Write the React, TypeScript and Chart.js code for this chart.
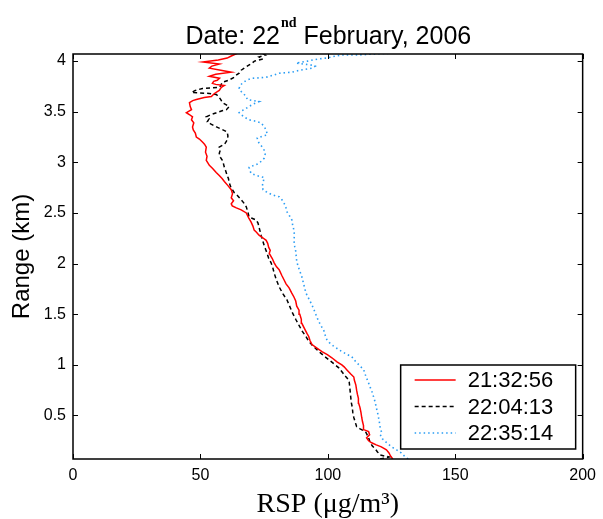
import React, { useEffect, useRef } from "react";
import { Chart, registerables } from "chart.js";

Chart.register(...registerables);

// ---- Data ----
const seriesLabels = ["21:32:56", "22:04:13", "22:35:14"];

// 21:32:56 (red, solid)
const redHeights = [
  0.07, 0.10, 0.13, 0.16, 0.19, 0.21, 0.23, 0.25, 0.28, 0.31, 0.34, 0.36, 0.40, 0.44, 0.48, 0.53,
  0.58, 0.62, 0.67, 0.71, 0.75, 0.80, 0.85, 0.88, 0.91, 0.95, 0.98, 1.00, 1.03, 1.07, 1.10, 1.13,
  1.16, 1.20, 1.24, 1.28, 1.31, 1.35, 1.41, 1.45, 1.50, 1.54, 1.58, 1.63, 1.67, 1.71, 1.76, 1.80,
  1.84, 1.88, 1.94, 1.97, 2.01, 2.05, 2.10, 2.13, 2.16, 2.20, 2.23, 2.26, 2.28, 2.31, 2.33, 2.37,
  2.41, 2.45, 2.50, 2.53, 2.55, 2.57, 2.59, 2.62, 2.65, 2.69, 2.73, 2.77, 2.81, 2.84, 2.87, 2.90,
  2.94, 2.97, 3.00, 3.02, 3.06, 3.10, 3.15, 3.18, 3.20, 3.23, 3.25, 3.29, 3.32, 3.35, 3.39, 3.42,
  3.45, 3.47, 3.49, 3.52, 3.55, 3.59, 3.61, 3.62, 3.64, 3.65, 3.68, 3.71, 3.74, 3.76, 3.77, 3.78,
  3.80, 3.81, 3.83, 3.85, 3.87, 3.89, 3.91, 3.93, 3.95, 3.97, 3.99, 4.01, 4.03, 4.05, 4.08,
];
const redRsp = [
  125.5, 124.6, 124.0, 123.0, 121.0, 119.0, 117.2, 116.0, 115.2, 116.4, 116.0, 114.1, 114.0, 113.6, 113.3, 113.0,
  112.6, 112.1, 112.0, 111.6, 111.3, 111.0, 110.4, 110.2, 109.0, 107.5, 106.4, 105.5, 103.6, 101.6, 99.8, 97.7,
  96.0, 93.8, 93.0, 92.5, 91.8, 91.0, 89.8, 89.6, 89.0, 88.7, 87.8, 87.4, 86.7, 85.8, 84.8, 83.6,
  82.8, 82.0, 80.9, 79.8, 78.9, 78.2, 77.0, 77.4, 76.8, 76.4, 75.8, 74.2, 73.0, 72.0, 71.1, 70.6,
  69.9, 69.0, 68.0, 66.0, 64.1, 62.5, 62.1, 63.0, 62.1, 62.6, 62.1, 60.8, 59.4, 58.5, 57.4, 56.2,
  54.8, 53.5, 52.8, 52.3, 52.6, 52.0, 52.3, 51.6, 50.8, 49.6, 48.4, 48.0, 47.2, 46.9, 47.4, 46.5,
  46.9, 45.8, 44.5, 46.5, 46.0, 45.7, 47.0, 48.4, 51.5, 54.3, 55.5, 57.4, 58.2, 59.4, 56.0, 54.7,
  55.2, 56.6, 57.5, 53.5, 56.0, 62.1, 58.0, 53.5, 54.5, 57.4, 51.0, 57.0, 60.5, 62.1, 64.8,
];

// 22:04:13 (black, dashed)
const blackHeights = [
  0.07, 0.09, 0.11, 0.14, 0.17, 0.20, 0.24, 0.28, 0.31, 0.34, 0.37, 0.39, 0.43, 0.48, 0.53, 0.58,
  0.63, 0.68, 0.73, 0.78, 0.83, 0.85, 0.89, 0.93, 0.97, 1.01, 1.05, 1.09, 1.12, 1.15, 1.19, 1.23,
  1.28, 1.33, 1.39, 1.45, 1.52, 1.58, 1.64, 1.70, 1.77, 1.84, 1.91, 1.96, 2.01, 2.05, 2.10, 2.14,
  2.18, 2.23, 2.28, 2.32, 2.36, 2.40, 2.43, 2.45, 2.46, 2.51, 2.56, 2.60, 2.63, 2.67, 2.70, 2.75,
  2.80, 2.84, 2.87, 2.91, 2.95, 2.99, 3.02, 3.05, 3.09, 3.12, 3.15, 3.18, 3.22, 3.26, 3.30, 3.33,
  3.35, 3.38, 3.40, 3.43, 3.45, 3.47, 3.49, 3.51, 3.52, 3.55, 3.57, 3.59, 3.62, 3.64, 3.67, 3.68,
  3.69, 3.71, 3.73, 3.74, 3.76, 3.79, 3.81, 3.84, 3.86, 3.88, 3.91, 3.93, 3.96, 3.98, 4.00, 4.02,
  4.04, 4.06, 4.08,
];
const blackRsp = [
  120.5, 124.0, 120.5, 119.5, 118.6, 117.4, 116.5, 116.0, 115.4, 114.8, 112.5, 111.3, 110.8, 110.2, 109.8, 109.6,
  109.2, 109.0, 108.8, 108.6, 108.4, 108.2, 106.8, 105.6, 104.3, 102.4, 100.4, 98.4, 97.0, 95.7, 94.0, 92.6,
  91.4, 90.0, 88.7, 87.4, 86.0, 85.0, 84.0, 82.4, 80.9, 79.8, 78.9, 78.4, 77.7, 76.8, 76.2, 75.6,
  75.0, 74.4, 73.8, 73.4, 73.0, 72.6, 71.9, 70.0, 69.1, 68.6, 68.0, 67.0, 66.0, 64.6, 63.3, 62.0,
  61.3, 61.0, 60.5, 60.0, 59.4, 59.0, 58.6, 57.8, 57.4, 57.8, 57.4, 59.5, 60.5, 60.8, 60.5, 58.0,
  56.3, 54.0, 52.7, 53.4, 52.3, 54.0, 56.3, 58.5, 60.2, 61.3, 60.0, 58.6, 58.0, 57.4, 56.3, 53.5,
  46.5, 48.0, 50.8, 57.4, 58.0, 58.6, 61.0, 63.3, 64.0, 65.2, 66.0, 67.2, 69.0, 70.3, 71.2, 74.5,
  73.0, 75.5, 74.0,
];

// 22:35:14 (blue, dotted)
const blueHeights = [
  0.07, 0.10, 0.13, 0.16, 0.19, 0.22, 0.24, 0.27, 0.30, 0.33, 0.36, 0.40, 0.44, 0.48, 0.53, 0.58,
  0.63, 0.68, 0.73, 0.78, 0.82, 0.87, 0.91, 0.95, 0.99, 1.03, 1.08, 1.11, 1.15, 1.19, 1.22, 1.25,
  1.29, 1.34, 1.40, 1.47, 1.53, 1.59, 1.65, 1.71, 1.79, 1.87, 1.94, 2.01, 2.06, 2.11, 2.17, 2.23,
  2.28, 2.33, 2.38, 2.43, 2.47, 2.51, 2.55, 2.60, 2.63, 2.66, 2.68, 2.71, 2.73, 2.76, 2.80, 2.85,
  2.87, 2.89, 2.92, 2.95, 2.97, 2.99, 3.02, 3.04, 3.08, 3.12, 3.16, 3.19, 3.22, 3.24, 3.26, 3.27,
  3.30, 3.32, 3.36, 3.39, 3.41, 3.42, 3.45, 3.49, 3.51, 3.52, 3.55, 3.57, 3.59, 3.60, 3.61, 3.62,
  3.65, 3.67, 3.70, 3.73, 3.76, 3.78, 3.81, 3.83, 3.84, 3.86, 3.88, 3.89, 3.91, 3.93, 3.95, 3.96,
  3.98, 4.00, 4.02, 4.03, 4.05, 4.06, 4.06, 4.07, 4.08,
];
const blueRsp = [
  131.5, 130.0, 128.8, 127.0, 125.0, 123.6, 122.7, 121.4, 120.7, 121.2, 120.7, 120.4, 120.2, 119.9, 119.5, 119.0,
  118.6, 118.0, 117.4, 116.6, 116.0, 115.2, 114.6, 114.1, 112.6, 111.0, 109.4, 107.0, 104.3, 102.0, 100.6, 99.6,
  99.0, 98.4, 97.0, 95.7, 94.8, 93.8, 92.6, 91.4, 90.6, 89.8, 88.8, 87.9, 87.6, 87.5, 87.0, 86.7,
  86.9, 86.7, 86.2, 85.9, 85.0, 84.0, 83.6, 82.8, 82.0, 80.9, 78.0, 75.8, 74.6, 74.2, 74.6, 75.0,
  72.0, 69.9, 69.4, 69.1, 71.0, 73.0, 74.2, 75.0, 75.4, 75.0, 74.0, 73.0, 72.4, 72.3, 74.5, 76.2,
  76.0, 75.8, 74.8, 73.8, 71.0, 69.1, 67.0, 65.2, 66.0, 67.2, 69.0, 70.3, 72.0, 73.0, 70.6, 68.4,
  68.0, 67.2, 66.0, 65.2, 65.6, 66.4, 68.0, 70.3, 75.8, 78.5, 80.9, 85.9, 89.0, 93.8, 95.0, 93.8,
  87.5, 92.0, 96.0, 99.6, 103.0, 105.5, 112.0, 118.0, 126.0,
];

const xTickValues = [0, 50, 100, 150, 200];
const yTickValues = [0.5, 1, 1.5, 2, 2.5, 3, 3.5, 4];

const SANS = '"Liberation Sans", Arial, Helvetica, sans-serif';
const SERIF = '"Liberation Serif", "Times New Roman", serif';

const toPoints = (hs: number[], xs: number[]) => hs.map((h, i) => ({ x: xs[i], y: h }));

// Title with a superscript, drawn on the canvas
const titlePlugin = {
  id: "matlabTitle",
  afterDraw(chart: any) {
    const { ctx, chartArea } = chart;
    const main = `25px ${SANS}`;
    const sup = `bold 14px ${SERIF}`;
    const p1 = "Date: 22";
    const p2 = "nd";
    const p3 = " February, 2006";
    ctx.save();
    ctx.font = main;
    const w1 = ctx.measureText(p1).width;
    const w3 = ctx.measureText(p3).width;
    ctx.font = sup;
    const w2 = ctx.measureText(p2).width;
    let x = (chartArea.left + chartArea.right) / 2 - (w1 + w2 + w3) / 2;
    const base = 44;
    ctx.fillStyle = "#000";
    ctx.textAlign = "left";
    ctx.textBaseline = "alphabetic";
    ctx.font = main;
    ctx.fillText(p1, x, base);
    x += w1;
    ctx.font = sup;
    ctx.fillText(p2, x + 1, base - 17);
    x += w2 + 1;
    ctx.font = main;
    ctx.fillText(p3, x, base);
    ctx.restore();
  },
};

// Box with inward ticks on all four sides
const framePlugin = {
  id: "matlabFrame",
  afterDatasetsDraw(chart: any) {
    const { ctx, chartArea, scales } = chart;
    const { left, right, top, bottom } = chartArea;
    const L = 5;
    ctx.save();
    ctx.strokeStyle = "#000";
    ctx.lineWidth = 1;
    ctx.beginPath();
    scales.x.ticks.forEach((t: any) => {
      const px = Math.round(scales.x.getPixelForValue(t.value)) + 0.5;
      ctx.moveTo(px, bottom);
      ctx.lineTo(px, bottom - L);
      ctx.moveTo(px, top);
      ctx.lineTo(px, top + L);
    });
    scales.y.ticks.forEach((t: any) => {
      const py = Math.round(scales.y.getPixelForValue(t.value)) + 0.5;
      ctx.moveTo(left, py);
      ctx.lineTo(left + L, py);
      ctx.moveTo(right, py);
      ctx.lineTo(right - L, py);
    });
    ctx.stroke();
    ctx.lineWidth = 1.5;
    ctx.strokeRect(left, top, right - left, bottom - top);
    ctx.restore();
  },
};

// Legend box inside the plot, bottom right
const legendPlugin = {
  id: "matlabLegend",
  afterDraw(chart: any) {
    const { ctx, chartArea } = chart;
    const w = 175;
    const h = 84;
    const bx = chartArea.right - 7 - w;
    const by = chartArea.bottom - 10 - h;
    ctx.save();
    ctx.fillStyle = "#fff";
    ctx.fillRect(bx, by, w, h);
    ctx.strokeStyle = "#000";
    ctx.lineWidth = 1.5;
    ctx.strokeRect(bx, by, w, h);
    ctx.font = `22px ${SANS}`;
    ctx.textBaseline = "middle";
    ctx.textAlign = "left";
    chart.data.datasets.forEach((ds: any, i: number) => {
      const cy = by + 15 + i * 26.5;
      ctx.save();
      ctx.strokeStyle = ds.borderColor;
      ctx.lineWidth = ds.borderWidth;
      ctx.setLineDash(ds.borderDash || []);
      ctx.beginPath();
      ctx.moveTo(bx + 14, cy);
      ctx.lineTo(bx + 55, cy);
      ctx.stroke();
      ctx.restore();
      ctx.fillStyle = "#000";
      ctx.fillText(ds.label, bx + 67, cy + 1);
    });
    ctx.restore();
  },
};

export default function App() {
  const ref = useRef<HTMLCanvasElement>(null);
  useEffect(() => {
    if (!ref.current) return;
    const chart = new Chart(ref.current, {
      type: "scatter",
      data: {
        datasets: [
          {
            label: seriesLabels[0],
            data: toPoints(redHeights, redRsp),
            showLine: true,
            borderColor: "#ff0000",
            borderWidth: 1.5,
            pointRadius: 0,
            fill: false,
          },
          {
            label: seriesLabels[1],
            data: toPoints(blackHeights, blackRsp),
            showLine: true,
            borderColor: "#000000",
            borderWidth: 1.5,
            borderDash: [4, 3],
            pointRadius: 0,
            fill: false,
          },
          {
            label: seriesLabels[2],
            data: toPoints(blueHeights, blueRsp),
            showLine: true,
            borderColor: "#2a9df4",
            borderWidth: 1.6,
            borderDash: [1.5, 3],
            pointRadius: 0,
            fill: false,
          },
        ],
      },
      options: {
        animation: false,
        responsive: false,
        layout: { padding: { top: 54, right: 18, left: 0, bottom: 0 } },
        plugins: {
          legend: { display: false },
          title: { display: false },
          tooltip: { enabled: false },
        },
        scales: {
          x: {
            type: "linear",
            min: 0,
            max: 200,
            afterBuildTicks: (s: any) => {
              s.ticks = xTickValues.map((v) => ({ value: v }));
            },
            afterFit: (s: any) => {
              s.height = 60;
            },
            grid: { display: false, drawTicks: false },
            border: { display: false },
            ticks: {
              padding: 7,
              color: "#000",
              autoSkip: false,
              maxRotation: 0,
              font: { family: SANS, size: 16 },
              callback: (v: any) => String(v),
            },
            title: {
              display: true,
              text: "RSP (\u03bcg/m\u00b3)",
              color: "#000",
              font: { family: SERIF, size: 28, lineHeight: 1 },
              padding: 0,
            },
          },
          y: {
            type: "linear",
            min: 0.07,
            max: 4.07,
            afterBuildTicks: (s: any) => {
              s.ticks = yTickValues.map((v) => ({ value: v }));
            },
            afterFit: (s: any) => {
              s.width = 73;
            },
            grid: { display: false, drawTicks: false },
            border: { display: false },
            ticks: {
              padding: 7,
              color: "#000",
              autoSkip: false,
              font: { family: SANS, size: 16 },
              callback: (v: any) => String(v),
            },
            title: {
              display: true,
              text: "Range (km)",
              color: "#000",
              font: { family: SANS, size: 24, lineHeight: 1 },
              padding: { top: 10, bottom: 0 },
            },
          },
        },
      },
      plugins: [framePlugin, titlePlugin, legendPlugin],
    } as any);
    return () => chart.destroy();
  }, []);
  return (
    <div style={{ position: "fixed", left: 0, top: 0, width: 603, height: 519, background: "#fff" }}>
      <canvas ref={ref} width={603} height={519} style={{ display: "block" }} />
    </div>
  );
}
